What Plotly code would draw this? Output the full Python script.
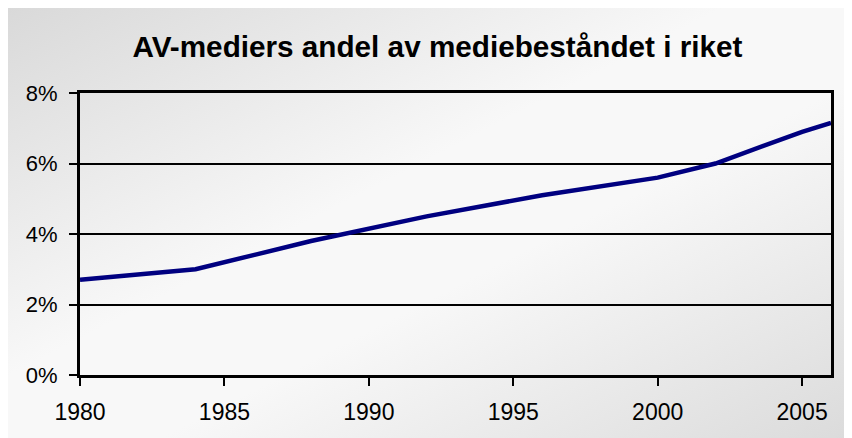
import base64
import plotly.graph_objects as go

years = [1980, 1984, 1988, 1992, 1996, 2000, 2002, 2005, 2006]
share = [0.027, 0.030, 0.038, 0.045, 0.051, 0.056, 0.060, 0.069, 0.0715]
x_ticks = [1980, 1985, 1990, 1995, 2000, 2005]
y_ticks = [0, 0.02, 0.04, 0.06, 0.08]

title = 'AV-mediers andel av mediebeståndet i riket'

# soft diagonal grey gradient behind the whole chart
svg = (
    '<svg xmlns="http://www.w3.org/2000/svg" width="200" height="100" '
    'viewBox="0 0 200 100" preserveAspectRatio="none">'
    '<defs><linearGradient id="g" x1="0" y1="0" x2="1" y2="1">'
    '<stop offset="0" stop-color="#d9d9d9"/>'
    '<stop offset="0.42" stop-color="#f8f8f8"/>'
    '<stop offset="0.58" stop-color="#f8f8f8"/>'
    '<stop offset="1" stop-color="#dadada"/>'
    '</linearGradient></defs>'
    '<rect width="200" height="100" fill="url(#g)"/></svg>'
)
bg_src = 'data:image/svg+xml;base64,' + base64.b64encode(svg.encode()).decode()

fig = go.Figure()

fig.add_trace(go.Scatter(
    x=years,
    y=share,
    mode='lines',
    line=dict(color='#000080', width=4.5),
    hoverinfo='skip',
    showlegend=False
))

fig.add_layout_image(
    source=bg_src,
    xref='paper', yref='paper',
    x=-72 / 751, y=1 + 85 / 282,
    sizex=852 / 751, sizey=438 / 282,
    xanchor='left', yanchor='top',
    sizing='stretch',
    layer='below'
)

fig.update_layout(
    width=852,
    height=438,
    paper_bgcolor='white',
    plot_bgcolor='rgba(0,0,0,0)',
    font=dict(family='Liberation Sans, Arial, sans-serif', color='black', size=23),
    title=dict(
        text='<b>' + title + '</b>',
        x=0.504, xanchor='center', xref='container',
        y=0.911, yanchor='middle', yref='container',
        font=dict(size=29.7, color='black')
    ),
    margin=dict(l=72, r=29, t=85, b=71, autoexpand=False),
    xaxis=dict(
        range=[1980, 2006],
        tickvals=x_ticks,
        ticktext=[str(v) for v in x_ticks],
        ticks='outside', ticklen=8, tickwidth=2, tickcolor='black',
        ticklabelstandoff=6,
        showgrid=False, zeroline=False,
        showline=True, linecolor='black', linewidth=3, mirror=True,
        automargin=False,
        tickfont=dict(size=23)
    ),
    yaxis=dict(
        range=[0, 0.08],
        tickvals=y_ticks,
        ticktext=['0%', '2%', '4%', '6%', '8%'],
        ticks='outside', ticklen=8, tickwidth=2, tickcolor='black',
        ticklabelstandoff=7,
        showgrid=True, gridcolor='black', gridwidth=2, zeroline=False,
        showline=True, linecolor='black', linewidth=3, mirror=True,
        automargin=False,
        tickfont=dict(size=22)
    )
)

fig.write_html('out.html')
